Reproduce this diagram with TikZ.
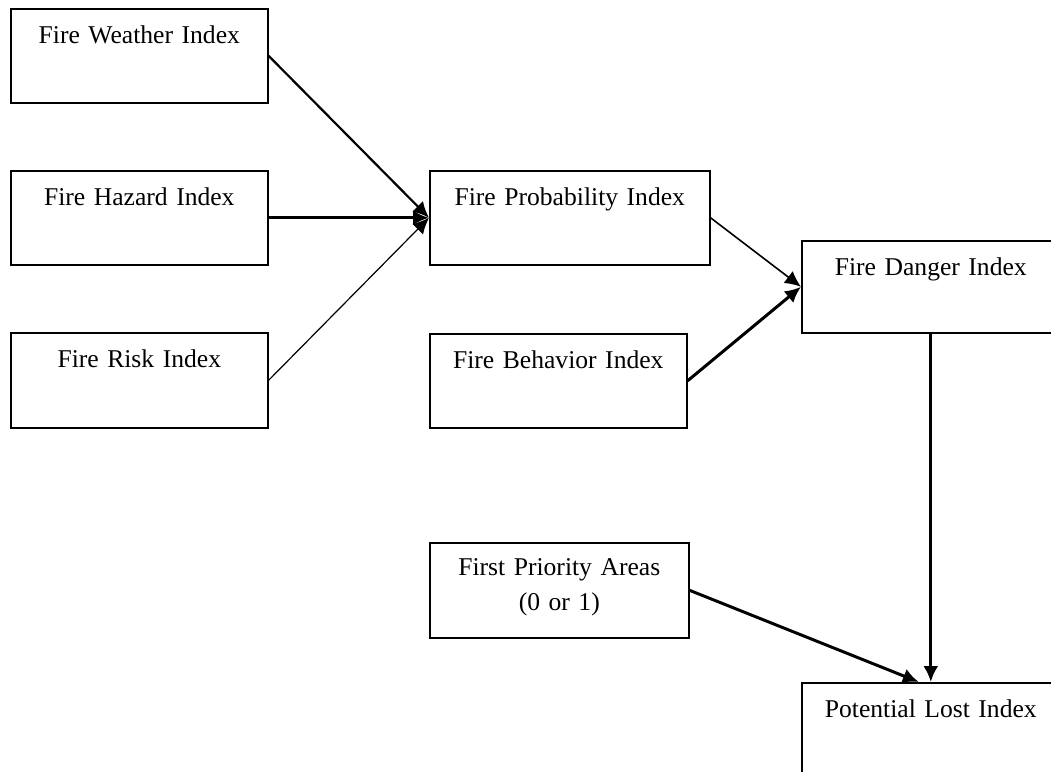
\documentclass[tikz,border=0pt]{standalone}
\usepackage{fontspec}
\setmainfont{Liberation Serif}
\usetikzlibrary{arrows.meta}
\begin{document}
\begin{tikzpicture}[x=0.5pt,y=-0.5pt,>={Latex[length=8pt,width=7.5pt]},
    index/.style={draw,line width=0.8pt,inner sep=0pt,anchor=north west,align=center,
      text width=128.5pt,text height=17.5pt,text depth=29.5pt,
      font=\fontsize{12.8}{17.5}\selectfont}]
    \useasboundingbox (0,0) rectangle (1051,772);

    % draw the index boxes on the left
    \node[index] (fwi) at (10,8)   {Fire Weather Index};
    \node[index] (fhi) at (10,170) {Fire Hazard Index};
    \node[index,text depth=30pt] (fri) at (10,332) {Fire Risk Index};

    % draw the boxes in the middle
    \node[index,text width=140pt] (fpi) at (429,170) {Fire Probability Index};
    \node[index] (fbi) at (429,333) {Fire Behavior Index};
    \node[index,text width=129.5pt,text height=16.5pt,text depth=31pt] (fpa) at (429,542)
      {First Priority Areas\\(0 or 1)};

    % draw the boxes on the right
    % they run past the edge of the page
    \node[index,text width=129pt,text depth=28.5pt] (fdi) at (801,240) {Fire Danger Index};
    \node[index,text width=129pt] (pli) at (801,682) {Potential Lost Index};

    % arrows into the probability index
    \foreach \from/\w in {fwi/1.1pt,fhi/1.6pt,fri/0.6pt}
      \draw[->,line width=\w] (\from.east) -- (fpi.west);

    % arrows into the danger index
    \foreach \from/\w in {fpi/0.8pt,fbi/1.5pt}
      \draw[->,line width=\w] (\from.east) -- (fdi.west);

    % arrows into the potential lost index
    \draw[->,line width=1.5pt] (fdi.south) -- (pli.north);
    \draw[->,line width=1.5pt] (fpa.east) -- ([xshift=-6pt]pli.north);
\end{tikzpicture}
\end{document}
